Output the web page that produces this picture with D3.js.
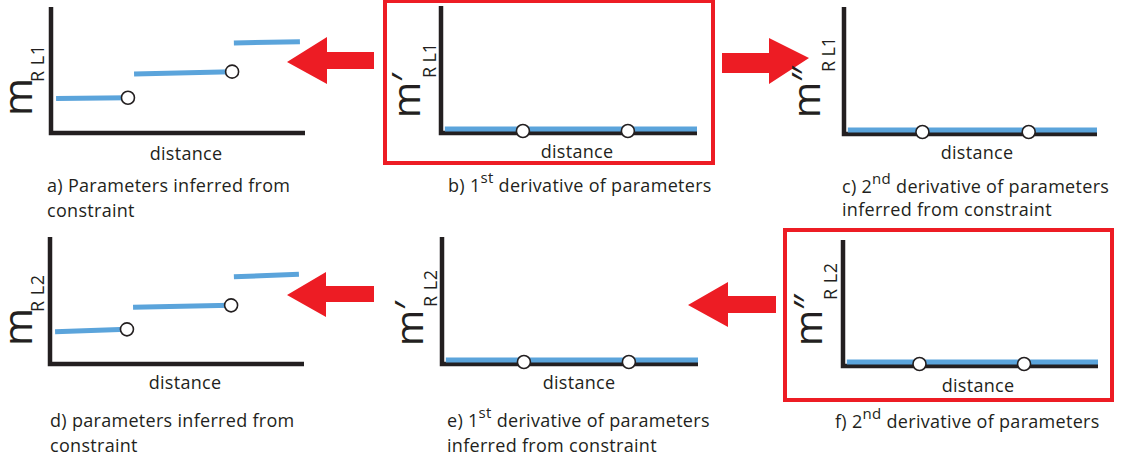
<!DOCTYPE html>
<html>
<head>
<meta charset="utf-8">
<script src="https://cdn.jsdelivr.net/npm/d3@7"></script>
<style>
  body { margin: 0; background: #fff; }
  text { font-family: "Open Sans", "Noto Sans", sans-serif; fill: #231f20; }
</style>
</head>
<body>
<div id="chart"></div>
<script>
// step values (distance start/end, value start/end) for the two parameters
const stepX0L1 = [2, 32.7, 72];
const stepX1L1 = [30.3, 71.3, 98];
const stepY0L1 = [27.4, 46.8, 71.4];
const stepY1L1 = [28.0, 48.7, 72.5];

const stepX0L2 = [2, 32.7, 72.4];
const stepX1L2 = [30.3, 71.3, 98];
const stepY0L2 = [25.4, 44.6, 68.7];
const stepY1L2 = [27.3, 46.2, 70.6];

// derivative panels: zero line with open circles at the jumps
const jumpsB = [32, 73];
const jumpsC = [31, 73];
const jumpsE = [32, 73];
const jumpsF = [30, 71];
const zeroLine = [1.5, 100];

const blue = '#5ba4db';
const red = '#ed1c24';
const ink = '#231f20';

const width = 1128, height = 464;

const svg = d3.select('#chart').append('svg')
  .attr('width', width)
  .attr('height', height);

// layout of the six small panels
// ox/oy axis origin, x1 axis end, top axis top
// m: [baseline x, start y, size], s: [baseline x, start y, length]
const panels = [
  { id: 'a', ox: 51, oy: 133, x1: 305, top: 7, prime: '', sub: 'R L1',
    m: [32, 116, 41], s: [44, 82, 37], dist: [186, 160],
    caption: [['a) Parameters inferred from'], ['constraint']], cx: 47, cy: [192, 217],
    steps: { x0: stepX0L1, x1: stepX1L1, y0: stepY0L1, y1: stepY1L1 } },
  { id: 'b', ox: 441, oy: 133, x1: 697, top: 6, prime: '′', sub: 'R L1',
    m: [420, 118, 39], s: [436, 78, 35], dist: [577, 158],
    caption: [['b) 1', 'st', ' derivative of parameters']], cx: 448, cy: [192],
    jumps: jumpsB },
  { id: 'c', ox: 844, oy: 134, x1: 1097, top: 7, prime: '″', sub: 'R L1',
    m: [820, 118, 39], s: [835, 72, 35], dist: [977, 159],
    caption: [['c) 2', 'nd', ' derivative of parameters'], ['inferred from constraint']], cx: 842, cy: [193, 216],
    jumps: jumpsC },
  { id: 'd', ox: 50, oy: 364, x1: 304, top: 237, prime: '', sub: 'R L2',
    m: [32, 346, 41], s: [44, 312, 37], dist: [185, 389],
    caption: [['d) parameters inferred from'], ['constraint']], cx: 50, cy: [427, 452],
    steps: { x0: stepX0L2, x1: stepX1L2, y0: stepY0L2, y1: stepY1L2 } },
  { id: 'e', ox: 442, oy: 364, x1: 698, top: 237, prime: '′', sub: 'R L2',
    m: [423, 346, 39], s: [437, 307, 37], dist: [579, 389],
    caption: [['e) 1', 'st', ' derivative of  parameters'], ['inferred from constraint']], cx: 447, cy: [427, 452],
    jumps: jumpsE },
  { id: 'f', ox: 843, oy: 366, x1: 1098, top: 240, prime: '″', sub: 'R L2',
    m: [822, 346, 39], s: [837, 300, 37], dist: [978, 392],
    caption: [['f) 2', 'nd', ' derivative of parameters']], cx: 835, cy: [428],
    jumps: jumpsF }
];

// red frames around b and f
const frames = [
  { x: 385, y: 1, w: 328, h: 162 },
  { x: 785, y: 230, w: 327, h: 170 }
];
svg.selectAll('rect.frame').data(frames).enter().append('rect')
  .attr('class', 'frame')
  .attr('x', d => d.x).attr('y', d => d.y)
  .attr('width', d => d.w).attr('height', d => d.h)
  .attr('fill', 'none').attr('stroke', red).attr('stroke-width', 4);

// block arrows: tip, head base x with top/bottom, shaft end x with top/bottom
const arrows = [
  { tip: [287, 62], hx: 327, ht: 37, hb: 84, sx: 374, st: 52, sb: 69 },
  { tip: [809, 58], hx: 769, ht: 38, hb: 84, sx: 722, st: 53, sb: 73 },
  { tip: [287, 295], hx: 326, ht: 272, hb: 317, sx: 374, st: 286, sb: 302 },
  { tip: [688, 305], hx: 728, ht: 282, hb: 327, sx: 776, st: 296, sb: 313 }
];
const poly = d3.line();
svg.selectAll('path.arrow').data(arrows).enter().append('path')
  .attr('class', 'arrow')
  .attr('fill', red)
  .attr('d', a => poly([
    a.tip, [a.hx, a.ht], [a.hx, a.st], [a.sx, a.st], [a.sx, a.sb], [a.hx, a.sb], [a.hx, a.hb]
  ]) + 'Z');

panels.forEach(p => {
  const g = svg.append('g').attr('class', 'panel-' + p.id);
  const x = d3.scaleLinear().domain([0, 100]).range([p.ox, p.x1]);
  const y = d3.scaleLinear().domain([0, 100]).range([p.oy, p.top]);

  if (p.steps) {
    const segs = p.steps.x0.map((v, i) => ({
      x0: v, x1: p.steps.x1[i], y0: p.steps.y0[i], y1: p.steps.y1[i]
    }));
    g.selectAll('line.step').data(segs).enter().append('line')
      .attr('x1', d => x(d.x0)).attr('y1', d => y(d.y0))
      .attr('x2', d => x(d.x1)).attr('y2', d => y(d.y1))
      .attr('stroke', blue).attr('stroke-width', 5);
    g.selectAll('circle').data(segs.slice(0, segs.length - 1)).enter().append('circle')
      .attr('cx', d => x(d.x1)).attr('cy', d => y(d.y1))
      .attr('r', 6.5)
      .attr('fill', '#fff').attr('stroke', ink).attr('stroke-width', 1.6);
  }

  // axes
  g.append('path')
    .attr('d', d3.line()([[x(0), y(100)], [x(0), y(0)], [x(100), y(0)]]))
    .attr('fill', 'none').attr('stroke', ink).attr('stroke-width', 4.5)
    .attr('stroke-linejoin', 'miter');

  if (p.jumps) {
    g.append('line')
      .attr('x1', x(zeroLine[0])).attr('x2', x(zeroLine[1]))
      .attr('y1', y(0) - 4).attr('y2', y(0) - 4)
      .attr('stroke', blue).attr('stroke-width', 5);
    g.selectAll('circle').data(p.jumps).enter().append('circle')
      .attr('cx', d => x(d)).attr('cy', y(0) - 2)
      .attr('r', 6.5)
      .attr('fill', '#fff').attr('stroke', ink).attr('stroke-width', 1.6);
  }

  // rotated y label: m with primes, then the subscript
  g.append('text')
    .attr('transform', `translate(${p.m[0]},${p.m[1]}) rotate(-90)`)
    .attr('font-size', p.m[2])
    .text('m' + p.prime);
  g.append('text')
    .attr('transform', `translate(${p.s[0]},${p.s[1]}) rotate(-90)`)
    .attr('font-size', 18)
    .attr('textLength', p.s[2]).attr('lengthAdjust', 'spacing')
    .text(p.sub);

  g.append('text')
    .attr('x', p.dist[0]).attr('y', p.dist[1])
    .attr('text-anchor', 'middle').attr('font-size', 18)
    .attr('letter-spacing', 0.3)
    .text('distance');

  p.caption.forEach((parts, i) => {
    const t = g.append('text').attr('x', p.cx).attr('y', p.cy[i])
      .attr('font-size', 18).attr('letter-spacing', 0.3);
    t.append('tspan').text(parts[0]);
    if (parts.length > 1) {
      t.append('tspan').attr('dy', -9).attr('font-size', 15).text(parts[1]);
      t.append('tspan').attr('dy', 9).text(parts[2]);
    }
  });
});
</script>
</body>
</html>
